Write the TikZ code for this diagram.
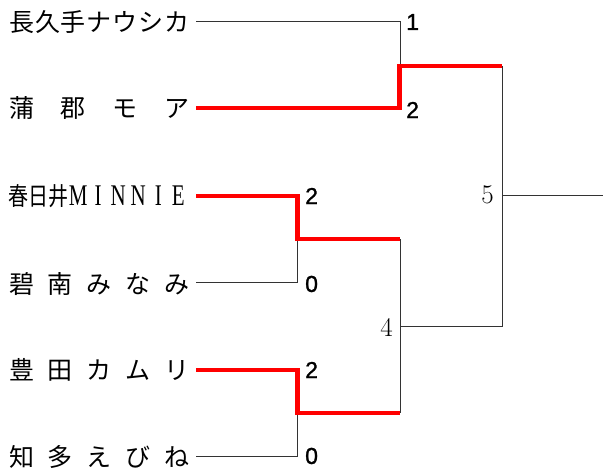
\documentclass[tikz,border=0pt]{standalone}
\usepackage{graphicx}
\usepackage{fontspec}
\newfontfamily\jp{Noto Sans CJK JP}
\newfontfamily\lserif{Liberation Serif}
\newfontfamily\scorefont{Liberation Sans}[FakeBold=1.2]
\newcommand\spreadname[1]{\makebox[180pt][s]{#1}}
\newcommand\cell[1]{\makebox[28.6pt]{#1}}
\begin{document}
\begin{tikzpicture}[x=1pt,y=-1pt,
  namelabel/.style={font=\jp\fontsize{25}{25}\selectfont, anchor=west, inner sep=0pt},
  bline/.style={draw=black!80, line width=1pt},
  winline/.style={draw=red, line width=4.5pt, line join=miter},
  score/.style={font=\scorefont\fontsize{23}{23}\selectfont, anchor=west, inner sep=0pt},
  seed/.style={font=\fontsize{27}{27}\selectfont, anchor=east, inner sep=0pt}]
\useasboundingbox (0,0) rectangle (603,470);
% names
\node[namelabel] (n1) at (9,22) {\spreadname{長\hfill 久\hfill 手\hfill ナ\hfill ウ\hfill シ\hfill カ}};
\node[namelabel] (n2) at (9,108) {\spreadname{蒲\hfill 郡\hfill モ\hfill ア}};
\node[namelabel] (n3) at (8,196) {\scalebox{0.8}[1]{春日井}\scalebox{0.7}[1]{\lserif\fontsize{30}{30}\selectfont\cell{M}\cell{I}\cell{N}\cell{N}\cell{I}\cell{E}}};
\node[namelabel] (n4) at (9,284) {\spreadname{碧\hfill 南\hfill み\hfill な\hfill み}};
\node[namelabel] (n5) at (9,370) {\spreadname{豊\hfill 田\hfill カ\hfill ム\hfill リ}};
\node[namelabel] (n6) at (9,457) {\spreadname{知\hfill 多\hfill え\hfill び\hfill ね}};
% line starts
\coordinate (s1) at (196,22);
\coordinate (s2) at (196,108);
\coordinate (s3) at (196,196);
\coordinate (s4) at (196,283);
\coordinate (s5) at (196,370);
\coordinate (s6) at (196,457);
% bracket points
\coordinate (a1) at (400,22);
\coordinate (a2) at (399.5,108);
\coordinate (m12) at (400,66);
\coordinate (b3) at (297.5,196);
\coordinate (b4) at (297.5,283);
\coordinate (m34) at (297.5,239);
\coordinate (b5) at (297.5,370);
\coordinate (b6) at (297.5,457);
\coordinate (m56) at (297.5,413);
\coordinate (r34) at (400,239);
\coordinate (r56) at (400,413);
\coordinate (m36) at (400,327);
\coordinate (t12) at (502,66);
\coordinate (t36) at (502,327);
\coordinate (f) at (502,196);
\coordinate (out) at (603,196);
% black lines
\draw[bline] (s1) -- (a1) -- (m12);
\draw[bline] (s4) -- (b4) -- (m34);
\draw[bline] (s6) -- (b6) -- (m56);
\draw[bline] (r34) -- (r56);
\draw[bline] (m36) -- (t36) -- (t12);
\draw[bline] (f) -- (out);
% winner lines
\draw[winline] (s2) -- (a2) -- (m12 -| a2) -- (t12);
\draw[winline] (s3) -- (b3) -- (m34) -- (r34);
\draw[winline] (s5) -- (b5) -- (m56) -- (r56);
% scores
\node[score] (c1) at (406,22) {1};
\node[score] (c2) at (406,110) {2};
\node[score] (c3) at (305,196) {2};
\node[score] (c4) at (305,284) {0};
\node[score] (c5) at (305,370) {2};
\node[score] (c6) at (305,456) {0};
% match numbers
\node[seed] (g4) at (393,327) {4};
\node[seed] (g5) at (494,195) {5};
\end{tikzpicture}
\end{document}
